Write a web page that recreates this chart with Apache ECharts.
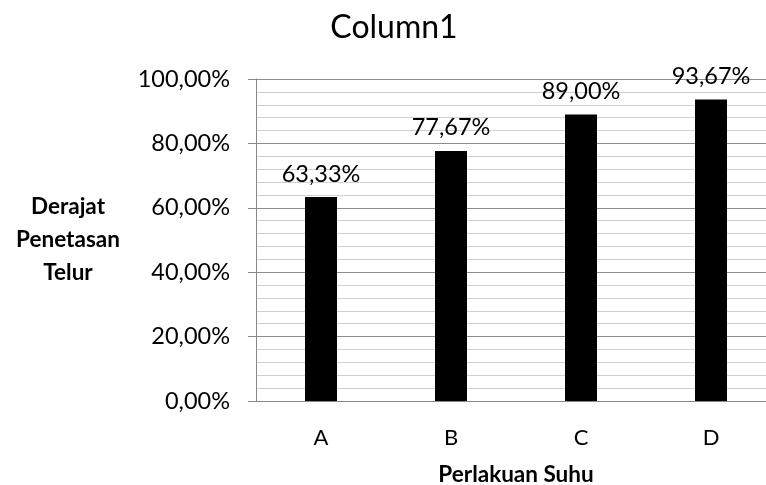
<!DOCTYPE html>
<html>
<head>
    <meta charset="utf-8">
    <script src="https://cdn.jsdelivr.net/npm/echarts@6/dist/echarts.min.js"></script>
    <style>
        html, body { margin: 0; padding: 0; background: #ffffff; }
        #chart { width: 766px; height: 485px; }
    </style>
</head>
<body>
    <div id="chart"></div>
    <script>
        // data
        var categories = ['A', 'B', 'C', 'D'];
        var hatchRate = [63.33, 77.67, 89.00, 93.67];

        var font = 'Lato, "Open Sans", sans-serif';

        function pct(v) {
            return Number(v).toFixed(2).replace('.', ',') + '%';
        }

        var chart = echarts.init(document.getElementById('chart'));

        chart.setOption({
            backgroundColor: '#ffffff',
            animation: false,
            title: {
                text: 'Column1',
                left: 389,
                top: 7,
                textAlign: 'center',
                textStyle: { fontFamily: font, fontWeight: 'normal', fontSize: 32, color: '#000' }
            },
            grid: { left: 256, top: 79, bottom: 84, right: -10, containLabel: false, outerBoundsMode: 'none' },
            xAxis: {
                type: 'category',
                data: categories,
                name: 'Perlakuan Suhu',
                nameLocation: 'middle',
                nameGap: 62,
                nameTextStyle: { fontFamily: font, fontWeight: 'bold', fontSize: 22.5, color: '#000' },
                axisLine: { lineStyle: { color: '#888888', width: 1 } },
                axisTick: { show: false },
                axisLabel: { fontFamily: font, fontSize: 22, color: '#000', margin: 26 }
            },
            yAxis: {
                type: 'value',
                min: 0,
                max: 100,
                interval: 20,
                name: 'Derajat\nPenetasan\nTelur',
                nameLocation: 'middle',
                nameRotate: 0,
                nameGap: 188,
                nameTextStyle: {
                    fontFamily: font, fontWeight: 'bold', fontSize: 22.5, color: '#000',
                    align: 'center', verticalAlign: 'middle', lineHeight: 33, padding: [4, 0, 0, 0]
                },
                axisLine: { show: true, lineStyle: { color: '#888888', width: 1 } },
                axisTick: { show: true, length: 8, lineStyle: { color: '#888888' } },
                minorTick: { show: false, splitNumber: 5 },
                splitLine: { show: true, lineStyle: { color: '#8c8c8c', width: 1 } },
                minorSplitLine: { show: true, lineStyle: { color: '#d0d0d0', width: 1 } },
                axisLabel: {
                    fontFamily: font, fontSize: 23.5, color: '#000', margin: 26,
                    formatter: function (v) { return pct(v); }
                }
            },
            series: [{
                type: 'bar',
                data: hatchRate,
                barWidth: 32,
                itemStyle: { color: '#000000' },
                label: {
                    show: true,
                    position: 'top',
                    distance: 11,
                    fontFamily: font,
                    fontSize: 23.5,
                    color: '#000',
                    formatter: function (p) { return pct(p.value); }
                }
            }]
        });
    </script>
</body>
</html>
